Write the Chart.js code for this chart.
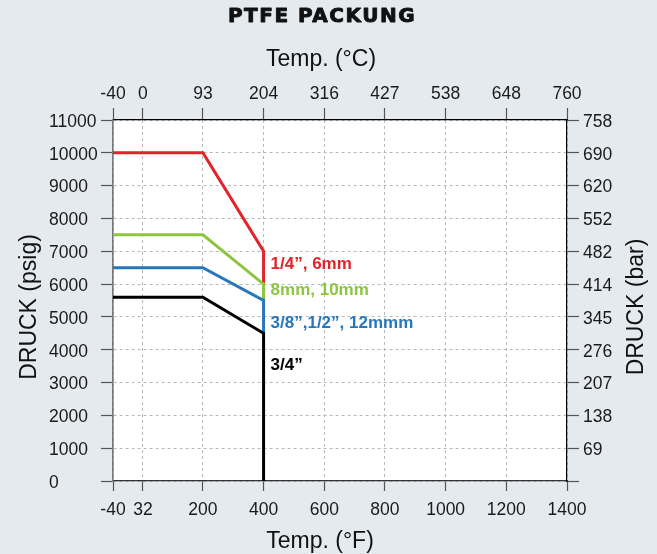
<!DOCTYPE html>
<html>
<head>
<meta charset="utf-8">
<title>PTFE Packung</title>
<script src="https://cdn.jsdelivr.net/npm/chart.js@4.4.1/dist/chart.umd.min.js"></script>
<style>
  html, body { margin: 0; padding: 0; background: #e5eaef; }
  #wrap { width: 657px; height: 554px; }
</style>
</head>
<body>
<div id="wrap"><canvas id="chart" width="657" height="554"></canvas></div>
<script>
// ─── PTFE PACKUNG: Druck über Temperatur ───

// Achsen
const fahrenheitTicks = [-40, 32, 200, 400, 600, 800, 1000, 1200, 1400];
const celsiusLabels = ['-40', '0', '93', '204', '316', '427', '538', '648', '760'];
const barLabels = ['', '69', '138', '207', '276', '345', '414', '482', '552', '620', '690', '758'];

// Kurven (°F -> psig)
const seriesNames = ['1/4”, 6mm', '8mm, 10mm', '3/8”,1/2”, 12mmm', '3/4”'];
const tempF = [-40, 200, 400, 400];
const psig14 = [10000, 10000, 7000, 6000];
const psig8mm = [7500, 7500, 6000, 5500];
const psig38 = [6500, 6500, 5500, 4500];
const psig34 = [5600, 5600, 4500, 0];
// Höhe (psig) der Beschriftungen rechts neben der 400°F-Linie
const labelPsig = [6600, 5800, 4820, 3520];

const lineColors = ['#e4222b', '#8cc63e', '#2677bb', '#000000'];
const FONT = '"Liberation Sans", Arial, sans-serif';

// die °F-Achse ist nicht linear: -40..32..200 gestaucht, ab 200 gleichmäßig
const X_BREAKS = [[-40, 0], [32, 0.066], [200, 0.198], [1400, 1]];

class BrokenLinearScale extends Chart.LinearScale {
  getPixelForValue(value) {
    const b = X_BREAKS;
    let d = 0;
    for (let i = 1; i < b.length; i++) {
      if (value <= b[i][0] || i === b.length - 1) {
        const [v0, f0] = b[i - 1], [v1, f1] = b[i];
        d = f0 + (value - v0) / (v1 - v0) * (f1 - f0);
        break;
      }
    }
    return this.getPixelForDecimal(d);
  }
  getValueForPixel(pixel) {
    const d = this.getDecimalForPixel(pixel);
    const b = X_BREAKS;
    for (let i = 1; i < b.length; i++) {
      if (d <= b[i][1] || i === b.length - 1) {
        const [v0, f0] = b[i - 1], [v1, f1] = b[i];
        return v0 + (d - f0) / (f1 - f0) * (v1 - v0);
      }
    }
    return b[0][0];
  }
}
BrokenLinearScale.id = 'brokenLinear';
BrokenLinearScale.defaults = Chart.LinearScale.defaults;
Chart.register(BrokenLinearScale);

const toPoints = ys => tempF.map((t, i) => ({ x: t, y: ys[i] }));

// weiße Zeichenfläche
const plotBackground = {
  id: 'plotBackground',
  beforeDraw(chart) {
    const { ctx, chartArea: a } = chart;
    ctx.save();
    ctx.fillStyle = '#ffffff';
    ctx.fillRect(a.left, a.top, a.right - a.left, a.bottom - a.top);
    ctx.restore();
  }
};

// Titel, Achsentitel und Kurvenbeschriftungen
const chartTexts = {
  id: 'chartTexts',
  afterDraw(chart) {
    const { ctx, scales: { x, y } } = chart;
    ctx.save();

    // Kurvennamen
    ctx.font = 'bold 17px ' + FONT;
    ctx.textAlign = 'left';
    ctx.textBaseline = 'middle';
    seriesNames.forEach((name, i) => {
      ctx.fillStyle = lineColors[i];
      ctx.fillText(name, x.getPixelForValue(tempF[2]) + 7, y.getPixelForValue(labelPsig[i]));
    });

    ctx.fillStyle = '#111';
    ctx.strokeStyle = '#111';
    ctx.textAlign = 'center';
    ctx.textBaseline = 'alphabetic';

    // Überschrift – etwas dicker, wie eine Black-Schnitt
    ctx.font = 'bold 20px "DejaVu Sans", sans-serif';
    ctx.lineWidth = 0.9;
    ctx.lineJoin = 'round';
    if ('letterSpacing' in ctx) ctx.letterSpacing = '1.5px';
    ctx.fillText('PTFE PACKUNG', 322, 22);
    ctx.strokeText('PTFE PACKUNG', 322, 22);
    if ('letterSpacing' in ctx) ctx.letterSpacing = '0px';

    ctx.font = '23px ' + FONT;
    ctx.fillText('Temp. (°C)', 321, 66);
    ctx.fillText('Temp. (°F)', 320, 548);

    ctx.save();
    ctx.translate(36, 307);
    ctx.rotate(-Math.PI / 2);
    ctx.fillText('DRUCK (psig)', 0, 0);
    ctx.restore();

    ctx.save();
    ctx.translate(643, 307);
    ctx.rotate(-Math.PI / 2);
    ctx.fillText('DRUCK (bar)', 0, 0);
    ctx.restore();

    ctx.restore();
  }
};

const tickFont = { family: FONT, size: 17.5 };
const gridLines = { color: '#b8b8b8', tickColor: '#555', tickWidth: 1.2, tickLength: 12 };
const setFTicks = scale => { scale.ticks = fahrenheitTicks.map(v => ({ value: v })); };

const lineDataset = (label, ys, color, order) => ({
  label: label,
  data: toPoints(ys),
  borderColor: color,
  backgroundColor: color,
  borderWidth: 3,
  pointRadius: 0,
  tension: 0,
  fill: false,
  order: order
});

new Chart(document.getElementById('chart'), {
  type: 'line',
  data: {
    datasets: [
      lineDataset(seriesNames[0], psig14, lineColors[0], 4),
      lineDataset(seriesNames[1], psig8mm, lineColors[1], 3),
      lineDataset(seriesNames[2], psig38, lineColors[2], 2),
      lineDataset(seriesNames[3], psig34, lineColors[3], 1)
    ]
  },
  options: {
    responsive: false,
    animation: false,
    layout: { padding: { left: 49, top: 0, right: 0, bottom: 0 } },
    plugins: {
      legend: { display: false },
      title: { display: false },
      tooltip: { enabled: false }
    },
    scales: {
      x: {
        type: 'brokenLinear',
        position: 'bottom',
        min: -40,
        max: 1400,
        afterBuildTicks: setFTicks,
        afterFit: s => { s.height = 73; },
        ticks: {
          autoSkip: false, maxRotation: 0, padding: 9,
          color: '#1a1a1a', font: tickFont,
          callback: (v, i) => String(fahrenheitTicks[i])
        },
        grid: { ...gridLines, tickLength: 10 },
        border: { color: '#333', width: 1.2, dash: [3, 3] }
      },
      x2: {
        type: 'brokenLinear',
        position: 'top',
        min: -40,
        max: 1400,
        afterBuildTicks: setFTicks,
        afterFit: s => { s.height = 120; },
        ticks: {
          autoSkip: false, maxRotation: 0, padding: 3.5,
          color: '#1a1a1a', font: tickFont,
          callback: (v, i) => celsiusLabels[i]
        },
        grid: { ...gridLines, drawOnChartArea: false },
        border: { color: '#000', width: 1.2 }
      },
      y: {
        position: 'left',
        min: 0,
        max: 11000,
        afterFit: s => { s.width = 64; },
        ticks: {
          stepSize: 1000, crossAlign: 'far', labelOffset: 2,
          color: '#1a1a1a', font: tickFont,
          callback: v => String(v)
        },
        grid: gridLines,
        border: { color: '#777', width: 1.6, dash: [3, 3] }
      },
      y2: {
        position: 'right',
        min: 0,
        max: 11000,
        afterFit: s => { s.width = 90; },
        ticks: {
          stepSize: 1000, padding: 4, labelOffset: 2,
          color: '#1a1a1a', font: tickFont,
          callback: (v, i) => barLabels[i]
        },
        grid: { ...gridLines, drawOnChartArea: false },
        border: { color: '#000', width: 1.2 }
      }
    }
  },
  plugins: [plotBackground, chartTexts]
});
</script>
</body>
</html>
